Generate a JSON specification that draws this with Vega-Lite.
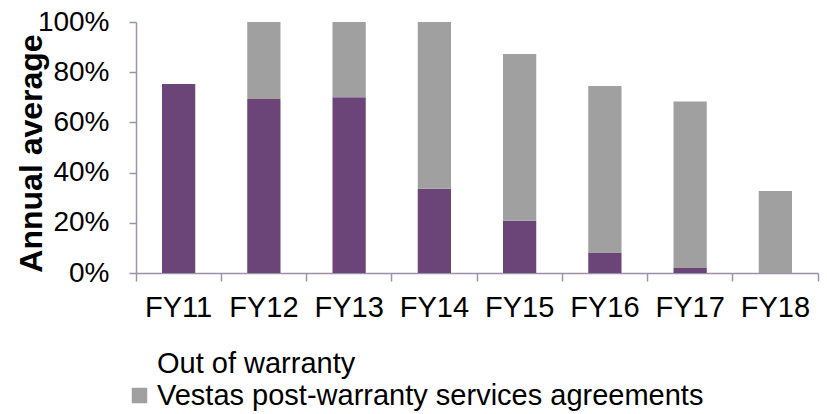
{
  "$schema": "https://vega.github.io/schema/vega-lite/v6.json",
  "width": 682,
  "height": 251,
  "autosize": "none",
  "padding": {"left": 136, "top": 22, "right": 9, "bottom": 141},
  "background": "white",
  "config": {
    "font": "Liberation Sans",
    "view": {"stroke": null}
  },
  "data": {
    "values": [
      {"year": "FY11", "series": "Out of warranty", "o": 1, "value": 0.753},
      {"year": "FY11", "series": "Vestas post-warranty services agreements", "o": 2, "value": 0.0},
      {"year": "FY12", "series": "Out of warranty", "o": 1, "value": 0.693},
      {"year": "FY12", "series": "Vestas post-warranty services agreements", "o": 2, "value": 0.307},
      {"year": "FY13", "series": "Out of warranty", "o": 1, "value": 0.700},
      {"year": "FY13", "series": "Vestas post-warranty services agreements", "o": 2, "value": 0.300},
      {"year": "FY14", "series": "Out of warranty", "o": 1, "value": 0.336},
      {"year": "FY14", "series": "Vestas post-warranty services agreements", "o": 2, "value": 0.664},
      {"year": "FY15", "series": "Out of warranty", "o": 1, "value": 0.208},
      {"year": "FY15", "series": "Vestas post-warranty services agreements", "o": 2, "value": 0.665},
      {"year": "FY16", "series": "Out of warranty", "o": 1, "value": 0.082},
      {"year": "FY16", "series": "Vestas post-warranty services agreements", "o": 2, "value": 0.663},
      {"year": "FY17", "series": "Out of warranty", "o": 1, "value": 0.020},
      {"year": "FY17", "series": "Vestas post-warranty services agreements", "o": 2, "value": 0.663},
      {"year": "FY18", "series": "Out of warranty", "o": 1, "value": 0.0},
      {"year": "FY18", "series": "Vestas post-warranty services agreements", "o": 2, "value": 0.327}
    ]
  },
  "mark": {"type": "bar", "width": {"band": 0.39}},
  "encoding": {
    "x": {
      "field": "year", "type": "nominal", "sort": null,
      "scale": {"paddingInner": 0, "paddingOuter": 0},
      "axis": {"title": null, "labelAngle": 0, "labelFontSize": 29, "labelFont": "Liberation Sans", "labelColor": "black",
        "domain": true, "domainColor": "#9d91aa", "domainWidth": 1.5,
        "ticks": true, "tickColor": "#9d91aa", "tickWidth": 1.5, "tickSize": 8, "labelPadding": 12,
        "bandPosition": 1, "tickExtra": true, "grid": false}
    },
    "y": {
      "field": "value", "type": "quantitative", "stack": "zero",
      "scale": {"domain": [0, 1], "nice": false},
      "axis": {"values": [0, 0.2, 0.4, 0.6, 0.8, 1], "format": ".0%", "labelFontSize": 28, "labelFont": "Liberation Sans", "labelColor": "black",
        "domain": true, "domainColor": "#9d91aa", "domainWidth": 1.5,
        "ticks": true, "tickColor": "#9d91aa", "tickWidth": 1.5, "tickSize": 7, "labelPadding": 20, "grid": false,
        "title": "Annual average", "titleFont": "Liberation Sans", "titleFontSize": 32, "titleFontWeight": "bold", "titleColor": "black",
        "titleX": -95, "titleY": 131, "titleBaseline": "alphabetic", "titleAngle": -90, "titleAlign": "center"}
    },
    "color": {
      "field": "series", "type": "nominal",
      "scale": {"domain": ["Out of warranty", "Vestas post-warranty services agreements"], "range": ["#6b4577", "#a0a0a0"]},
      "legend": {
        "title": null, "orient": "none", "legendX": -11, "legendY": 327, "padding": 0,
        "symbolType": "square", "symbolSize": 240, "symbolStrokeWidth": 0, "labelFontSize": 29, "labelFont": "Liberation Sans", "labelColor": "black",
        "labelOffset": 3, "rowPadding": 2, "labelLimit": 0,
        "encode": {"symbols": {"update": {"opacity": {"signal": "datum.value === 'Out of warranty' ? 0 : 1"}}}}
      }
    },
    "order": {"field": "o", "type": "quantitative"}
  }
}
